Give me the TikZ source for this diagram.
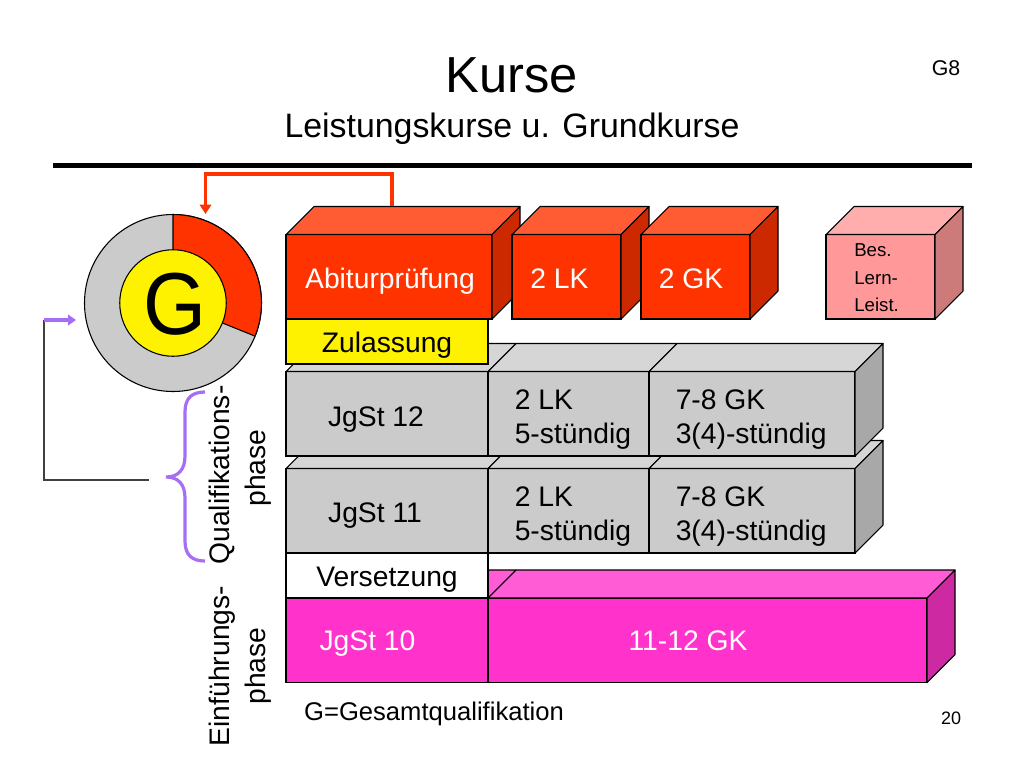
\documentclass[tikz,border=0pt]{standalone}
\usepackage{fontspec}
\setmainfont{Liberation Sans}
\usetikzlibrary{positioning}
\usetikzlibrary{calc}
\usetikzlibrary{arrows.meta}
\definecolor{redfront}{HTML}{FF3300}
\definecolor{redtop}{HTML}{FF5C33}
\definecolor{redside}{HTML}{CC2900}
\definecolor{greyfront}{HTML}{CBCBCB}
\definecolor{greytop}{HTML}{D6D6D6}
\definecolor{greyside}{HTML}{A8A8A8}
\definecolor{pinkfront}{HTML}{FF33CC}
\definecolor{pinktop}{HTML}{FF5CD6}
\definecolor{pinkside}{HTML}{CC29A3}
\definecolor{rosefront}{HTML}{FF9999}
\definecolor{rosetop}{HTML}{FFADAD}
\definecolor{roseside}{HTML}{CC7A7A}
\definecolor{bracepurple}{HTML}{A56EF5}
\tikzset{front/.style={
          draw, anchor=north west, inner sep=0pt, outer sep=0pt, line width=0.8pt,
          minimum width=#1*0.75pt
          },
        tall/.style={minimum height=84.5*0.75pt},
        flat/.style={minimum height=45*0.75pt},
        face/.style={draw, line width=0.8pt, line join=round},
        body/.style={font=\fontsize{21.2}{25.5}\selectfont, align=left},
        whitebody/.style={body, text=white},
        sidebody/.style={font=\fontsize{21.2}{27}\selectfont, align=center, rotate=90},
        note/.style={font=\fontsize{14}{20.6}\selectfont, align=left},
        feedline/.style={line width=0.8pt, draw=black!75},
        redarrow/.style={line width=2.4pt, draw=redfront, -{Triangle[length=7pt,width=8.5pt]}},
        purplearrow/.style={line width=2.4pt, draw=bracepurple, -{Triangle[length=6pt,width=8pt]}},
}
% top and side faces of a block
\newcommand{\facetop}[2]{\draw[face, fill=#2] (#1.north west) -- ++(28,-28) -- ($(#1.north east)+(28,-28)$) -- (#1.north east) -- cycle;}
\newcommand{\faceside}[2]{\draw[face, fill=#2] (#1.north east) -- ++(28,-28) -- ($(#1.south east)+(28,-28)$) -- (#1.south east) -- cycle;}
\begin{document}
\begin{tikzpicture}[x=0.75pt, y=-0.75pt]
      \useasboundingbox (0,0) rectangle (1024,768);
      % TITLE
      \node[font=\fontsize{38}{44}\selectfont] (title) at (512,75) {Kurse};
      \node[font=\fontsize{25.4}{30}\selectfont] (subtitle) at (512,129) {Leistungskurse u. Grundkurse};
      \node[font=\fontsize{16}{18}\selectfont] (variant) at (946,68) {G8};
      \coordinate (ruleleft) at (53,165.5);
      \coordinate (ruleright) at (972,165.5);
      \draw[line width=3.75pt] (ruleleft) -- (ruleright);

      % FINAL EXAM ROW
      \node[front=206, tall, fill=redfront] (abitur) at (286,234.5) {};
      \facetop{abitur}{redtop}
      \faceside{abitur}{redside}
      \node[front=109, tall, fill=redfront, right=20*0.75pt of abitur.north east, anchor=north west] (lkexam) {};
      \facetop{lkexam}{redtop}
      \faceside{lkexam}{redside}
      \node[front=109, tall, fill=redfront, right=20*0.75pt of lkexam.north east, anchor=north west] (gkexam) {};
      \facetop{gkexam}{redtop}
      \faceside{gkexam}{redside}
      \node[front=109, tall, fill=rosefront] (special) at (826,234.5) {};
      \facetop{special}{rosetop}
      \faceside{special}{roseside}
      \node[whitebody] (abiturtext) at (390,281) {Abiturprüfung};
      \node[whitebody] (lkexamtext) at (559.5,279) {2 LK};
      \node[whitebody] (gkexamtext) at (691,279) {2 GK};
      \node[note, anchor=west, inner sep=0pt] (specialtext) at (854,278) {Bes.\\Lern-\\Leist.};

      % JGST 11
      \node[front=202, tall, fill=greyfront] (jg11) at (286,468.5) {};
      \node[front=161, tall, fill=greyfront, right=0pt of jg11.north east, anchor=north west] (jg11lk) {};
      \node[front=206, tall, fill=greyfront, right=0pt of jg11lk.north east, anchor=north west] (jg11gk) {};
      \facetop{jg11}{greytop}
      \facetop{jg11lk}{greytop}
      \facetop{jg11gk}{greytop}
      \faceside{jg11gk}{greyside}
      \node[body] (jg11text) at (375,516) {JgSt 11};
      \node[body, anchor=west, inner sep=0pt] (jg11lktext) at (514.5,517) {2 LK\\5-stündig};
      \node[body, anchor=west, inner sep=0pt] (jg11gktext) at (675.5,517) {7-8 GK\\3(4)-stündig};

      % JGST 12
      \node[front=202, tall, fill=greyfront] (jg12) at (286,371.5) {};
      \node[front=161, tall, fill=greyfront, right=0pt of jg12.north east, anchor=north west] (jg12lk) {};
      \node[front=206, tall, fill=greyfront, right=0pt of jg12lk.north east, anchor=north west] (jg12gk) {};
      \facetop{jg12}{greytop}
      \facetop{jg12lk}{greytop}
      \facetop{jg12gk}{greytop}
      \faceside{jg12gk}{greyside}
      \node[body] (jg12text) at (376,420) {JgSt 12};
      \node[body, anchor=west, inner sep=0pt] (jg12lktext) at (514.5,420) {2 LK\\5-stündig};
      \node[body, anchor=west, inner sep=0pt] (jg12gktext) at (675.5,420) {7-8 GK\\3(4)-stündig};
      \node[front=202, flat, fill=yellow] (zulassung) at (286,319) {};
      \node[body] (zulassungtext) at (387,345) {Zulassung};

      % JGST 10
      \node[front=202, tall, fill=pinkfront] (jg10) at (286,598) {};
      \node[front=439, tall, fill=pinkfront, right=0pt of jg10.north east, anchor=north west] (jg10gk) {};
      \facetop{jg10}{pinktop}
      \facetop{jg10gk}{pinktop}
      \faceside{jg10gk}{pinkside}
      \node[front=202, flat, fill=white] (versetzung) at (286,553) {};
      \node[body] (versetzungtext) at (387,580) {Versetzung};
      \node[whitebody] (jg10text) at (367.5,644) {JgSt 10};
      \node[whitebody] (jg10gktext) at (688,641) {11-12 GK};

      % G RING
      \node[circle, draw, line width=0.8pt, fill=greyfront, inner sep=0pt, outer sep=0pt, minimum size=177*0.75pt] (ring) at (173,303) {};
      \draw[face, fill=redfront] (ring.center) -- (ring.north) arc[start angle=90, end angle=-22, radius=88.5*0.75pt] -- cycle;
      \node[circle, draw, line width=0.8pt, fill=yellow, inner sep=0pt, minimum size=106.5*0.75pt] (inner) at (ring.center) {};
      \node[font=\fontsize{66}{66}\selectfont, inner sep=0pt, xscale=0.92] (bigg) at (175,304) {G};

      % WIRING
      \coordinate (abitop) at (392,206);
      \coordinate (ringtop) at (205.5,214);
      \draw[redarrow] (abitop) -- ++(0,-32) -| (ringtop);
      \coordinate (bracefoot) at (149,480);
      \coordinate (loopcorner) at (44,480);
      \coordinate (loopstart) at (44,320);
      \coordinate (ringleft) at (76,320);
      \draw[feedline] (bracefoot) -- (loopcorner) -- (loopstart);
      \draw[purplearrow] (loopstart) -- (ringleft);

      % BRACE
      \coordinate (bracetop) at (205,392);
      \coordinate (bracetip) at (166,477);
      \coordinate (bracebottom) at (205,561);
      \draw[line width=2.4pt, draw=bracepurple]
        (bracetop) .. controls (192,392) and (185,398) .. (185,412)
        -- (185,456) .. controls (185,470) and (178,477) .. (bracetip)
        .. controls (178,477) and (185,484) .. (185,498)
        -- (185,541) .. controls (185,555) and (192,561) .. (bracebottom);

      % SIDE LABELS
      \node[sidebody] (qualiphase) at (240,475) {Qualifikations-\\\hspace*{10.5pt}phase};
      \node[sidebody] (einphase) at (240,666) {Einführungs-\\phase};
      \node[font=\fontsize{19.2}{22}\selectfont] (legend) at (434,714) {G=Gesamtqualifikation};
      \node[font=\fontsize{13.5}{16}\selectfont] (pagenum) at (951,718) {20};
\end{tikzpicture}
\end{document}
